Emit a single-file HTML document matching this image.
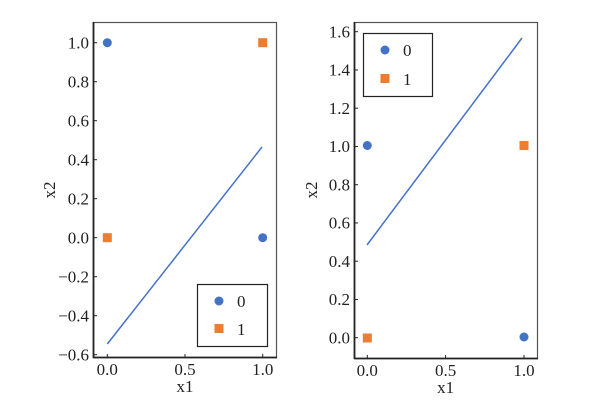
<!DOCTYPE html>
<html><head><meta charset="utf-8"><style>
html,body{margin:0;padding:0;background:#fff;}
svg text{font-family:"Liberation Serif","Times New Roman",serif !important;font-size:17px;fill:#222;}
</style></head><body>
<svg width="600" height="410" xmlns="http://www.w3.org/2000/svg" font-family="Liberation Serif, serif" font-size="17">
<!-- Left plot -->
<g>
<rect x="93.5" y="22.5" width="183" height="335" fill="none" stroke="#555" stroke-width="1.2"/>
<line x1="93.5" y1="22" x2="93.5" y2="358" stroke="#222" stroke-width="1.8"/>
<line x1="93" y1="357.5" x2="277" y2="357.5" stroke="#222" stroke-width="1.8"/>
<g stroke="#222" stroke-width="1">
<line x1="93" y1="42.7" x2="97" y2="42.7"/><line x1="93" y1="81.7" x2="97" y2="81.7"/><line x1="93" y1="120.7" x2="97" y2="120.7"/><line x1="93" y1="159.7" x2="97" y2="159.7"/><line x1="93" y1="198.7" x2="97" y2="198.7"/><line x1="93" y1="237.7" x2="97" y2="237.7"/><line x1="93" y1="276.7" x2="97" y2="276.7"/><line x1="93" y1="315.7" x2="97" y2="315.7"/><line x1="93" y1="354.7" x2="97" y2="354.7"/>
<line x1="107.3" y1="358" x2="107.3" y2="354"/><line x1="185" y1="358" x2="185" y2="354"/><line x1="262.7" y1="358" x2="262.7" y2="354"/>
</g>
<g text-anchor="end">
<text x="89" y="48.5">1.0</text><text x="89" y="87.5">0.8</text><text x="89" y="126.5">0.6</text><text x="89" y="165.5">0.4</text><text x="89" y="204.5">0.2</text><text x="89" y="243.5">0.0</text><text x="89" y="282.5">−0.2</text><text x="89" y="321.5">−0.4</text><text x="89" y="360.5">−0.6</text>
</g>
<g text-anchor="middle">
<text x="107.3" y="375">0.0</text><text x="185" y="375">0.5</text><text x="262.7" y="375">1.0</text>
<text x="185" y="392">x1</text>
<text transform="translate(55,190) rotate(-90)">x2</text>
</g>
<line x1="107.3" y1="344" x2="262" y2="147" stroke="#4472c4" stroke-width="1.5"/>
<circle cx="107.3" cy="42.7" r="4.5" fill="#4472c4"/>
<circle cx="262.7" cy="237.7" r="4.5" fill="#4472c4"/>
<rect x="102.8" y="233.2" width="9" height="9" fill="#ed7d31"/>
<rect x="258.2" y="38.2" width="9" height="9" fill="#ed7d31"/>
<rect x="197.5" y="284.5" width="70" height="62" fill="#fff" stroke="#222" stroke-width="1.2"/>
<circle cx="219" cy="301" r="4.5" fill="#4472c4"/>
<rect x="214.5" y="324" width="9" height="9" fill="#ed7d31"/>
<text x="237" y="307">0</text><text x="237" y="335">1</text>
</g>
<!-- Right plot -->
<g>
<rect x="354.5" y="22.5" width="183" height="336" fill="none" stroke="#555" stroke-width="1.2"/>
<line x1="354.5" y1="22" x2="354.5" y2="359" stroke="#222" stroke-width="1.8"/>
<line x1="354" y1="358.5" x2="538" y2="358.5" stroke="#222" stroke-width="1.8"/>
<g stroke="#222" stroke-width="1">
<line x1="354" y1="31.7" x2="358" y2="31.7"/><line x1="354" y1="69.95" x2="358" y2="69.95"/><line x1="354" y1="108.2" x2="358" y2="108.2"/><line x1="354" y1="146.45" x2="358" y2="146.45"/><line x1="354" y1="184.7" x2="358" y2="184.7"/><line x1="354" y1="222.95" x2="358" y2="222.95"/><line x1="354" y1="261.2" x2="358" y2="261.2"/><line x1="354" y1="299.45" x2="358" y2="299.45"/><line x1="354" y1="337.7" x2="358" y2="337.7"/>
<line x1="367.3" y1="359" x2="367.3" y2="355"/><line x1="445.6" y1="359" x2="445.6" y2="355"/><line x1="524" y1="359" x2="524" y2="355"/>
</g>
<g text-anchor="end">
<text x="350" y="37.5">1.6</text><text x="350" y="75.7">1.4</text><text x="350" y="114">1.2</text><text x="350" y="152.2">1.0</text><text x="350" y="190.5">0.8</text><text x="350" y="228.7">0.6</text><text x="350" y="267">0.4</text><text x="350" y="305.2">0.2</text><text x="350" y="343.5">0.0</text>
</g>
<g text-anchor="middle">
<text x="367.3" y="376">0.0</text><text x="445.6" y="376">0.5</text><text x="524" y="376">1.0</text>
<text x="445.6" y="393">x1</text>
<text transform="translate(317,190) rotate(-90)">x2</text>
</g>
<line x1="367" y1="245" x2="522" y2="38" stroke="#4472c4" stroke-width="1.5"/>
<circle cx="367.3" cy="145.5" r="4.5" fill="#4472c4"/>
<circle cx="524" cy="337" r="4.5" fill="#4472c4"/>
<rect x="362.8" y="333.5" width="9" height="9" fill="#ed7d31"/>
<rect x="519.5" y="141" width="9" height="9" fill="#ed7d31"/>
<rect x="363.5" y="33.5" width="69" height="63" fill="#fff" stroke="#222" stroke-width="1.2"/>
<circle cx="385" cy="50" r="4.5" fill="#4472c4"/>
<rect x="380.5" y="74" width="9" height="9" fill="#ed7d31"/>
<text x="403" y="56">0</text><text x="403" y="85">1</text>
</g>
</svg>
</body></html>
